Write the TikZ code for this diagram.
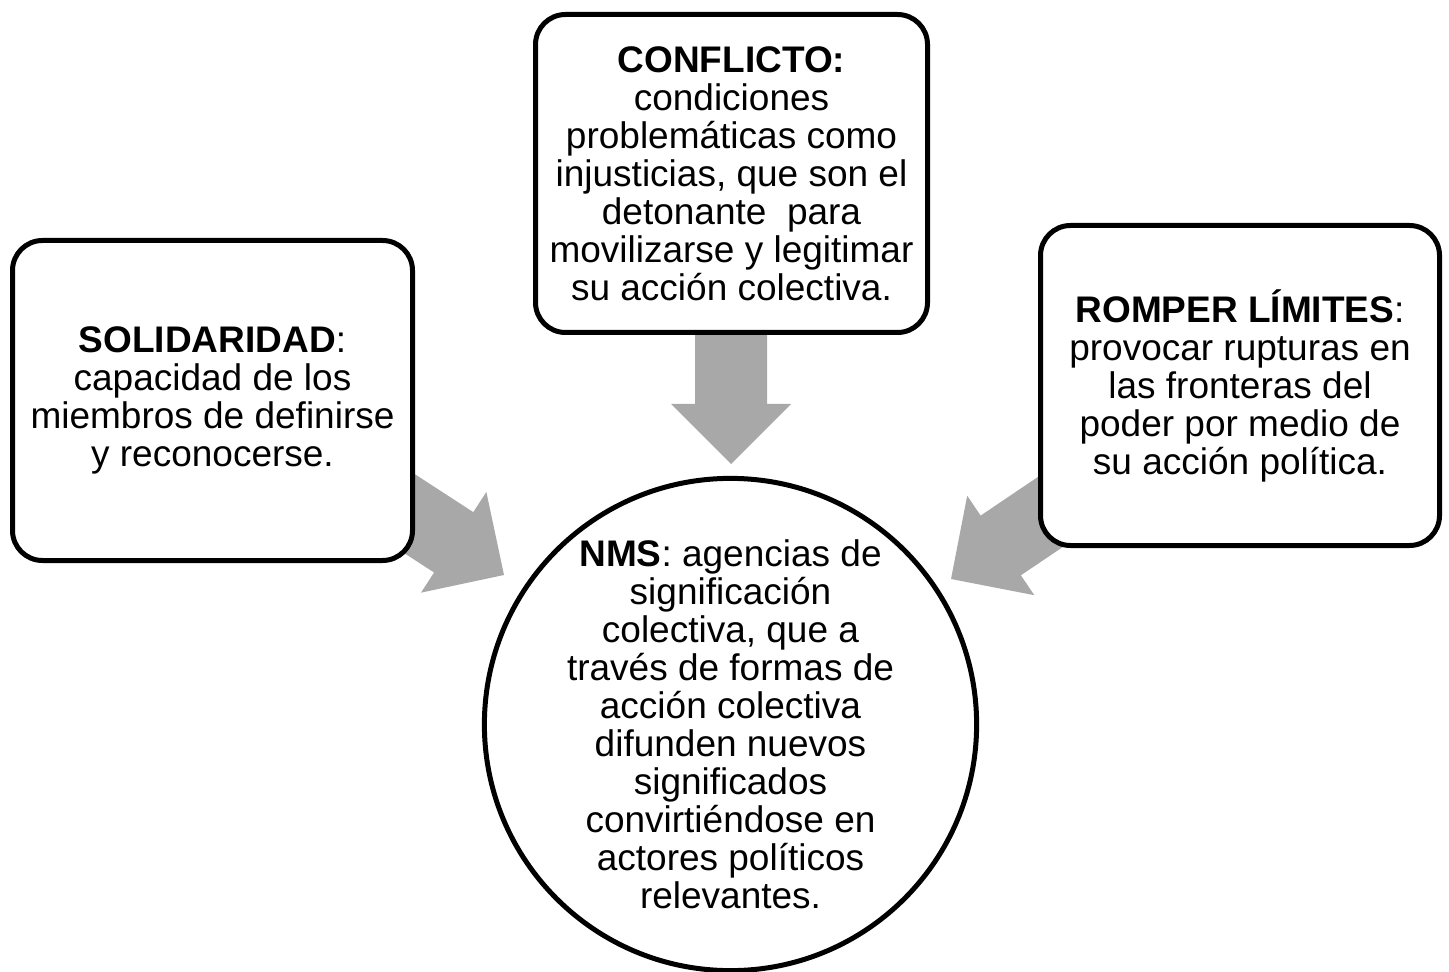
\documentclass[tikz,border=0pt]{standalone}
\usepackage{fontspec}
\setmainfont{Liberation Sans}
\definecolor{arrowgray}{RGB}{168,168,168}
\begin{document}
\begin{tikzpicture}[x=0.5pt,y=-0.5pt,
  box/.style={draw=black, line width=2.5pt, fill=white, rounded corners=15pt,
    inner sep=0pt, align=center, font=\fontsize{18.5}{19}\selectfont},
  hub/.style={draw=black, line width=2.5pt, fill=white, circle, inner sep=0pt,
    minimum size=244.5pt, align=center, font=\fontsize{18.5}{19}\selectfont},
  blockarrow/.style={fill=arrowgray}]
\useasboundingbox (0,0) rectangle (1449,972);
% arrow tips
\coordinate (tipC) at (731,464);
\coordinate (tipS) at (504,575);
\coordinate (tipR) at (951,579);
% block arrows (drawn behind the boxes)
\fill[blockarrow, shift={(tipC)}, rotate=-90] (0,0) -- (-60,60) -- (-60,36) -- (-150,36) -- (-150,-36) -- (-60,-36) -- (-60,-60) -- cycle;
\fill[blockarrow, shift={(tipS)}, rotate=-33] (0,0) -- (-60,60) -- (-60,36) -- (-150,36) -- (-150,-36) -- (-60,-36) -- (-60,-60) -- cycle;
\fill[blockarrow, shift={(tipR)}, rotate=-146] (0,0) -- (-60,60) -- (-60,36) -- (-150,36) -- (-150,-36) -- (-60,-36) -- (-60,-60) -- cycle;
% boxes
\node[box, minimum width=200pt, minimum height=160pt] (sol) at (212.5,400.5)
  {\textbf{SOLIDARIDAD}:\\capacidad de los\\miembros de definirse\\y reconocerse.};
\node[box, minimum width=196pt, minimum height=159pt] (conf) at (731.5,173.5)
  {\textbf{CONFLICTO:}\\condiciones\\problemáticas como\\injusticias, que son el\\detonante\ \ para\\movilizarse y legitimar\\su acción colectiva.};
\node[box, minimum width=199.5pt, minimum height=160pt] (romp) at (1240,385.5)
  {\textbf{ROMPER LÍMITES}:\\provocar rupturas en\\las fronteras del\\poder por medio de\\su acción política.};
\node[hub] (nms) at (730.5,724.5)
  {\textbf{NMS}: agencias de\\significación\\colectiva, que a\\través de formas de\\acción colectiva\\difunden nuevos\\significados\\convirtiéndose en\\actores políticos\\relevantes.};
\end{tikzpicture}
\end{document}
